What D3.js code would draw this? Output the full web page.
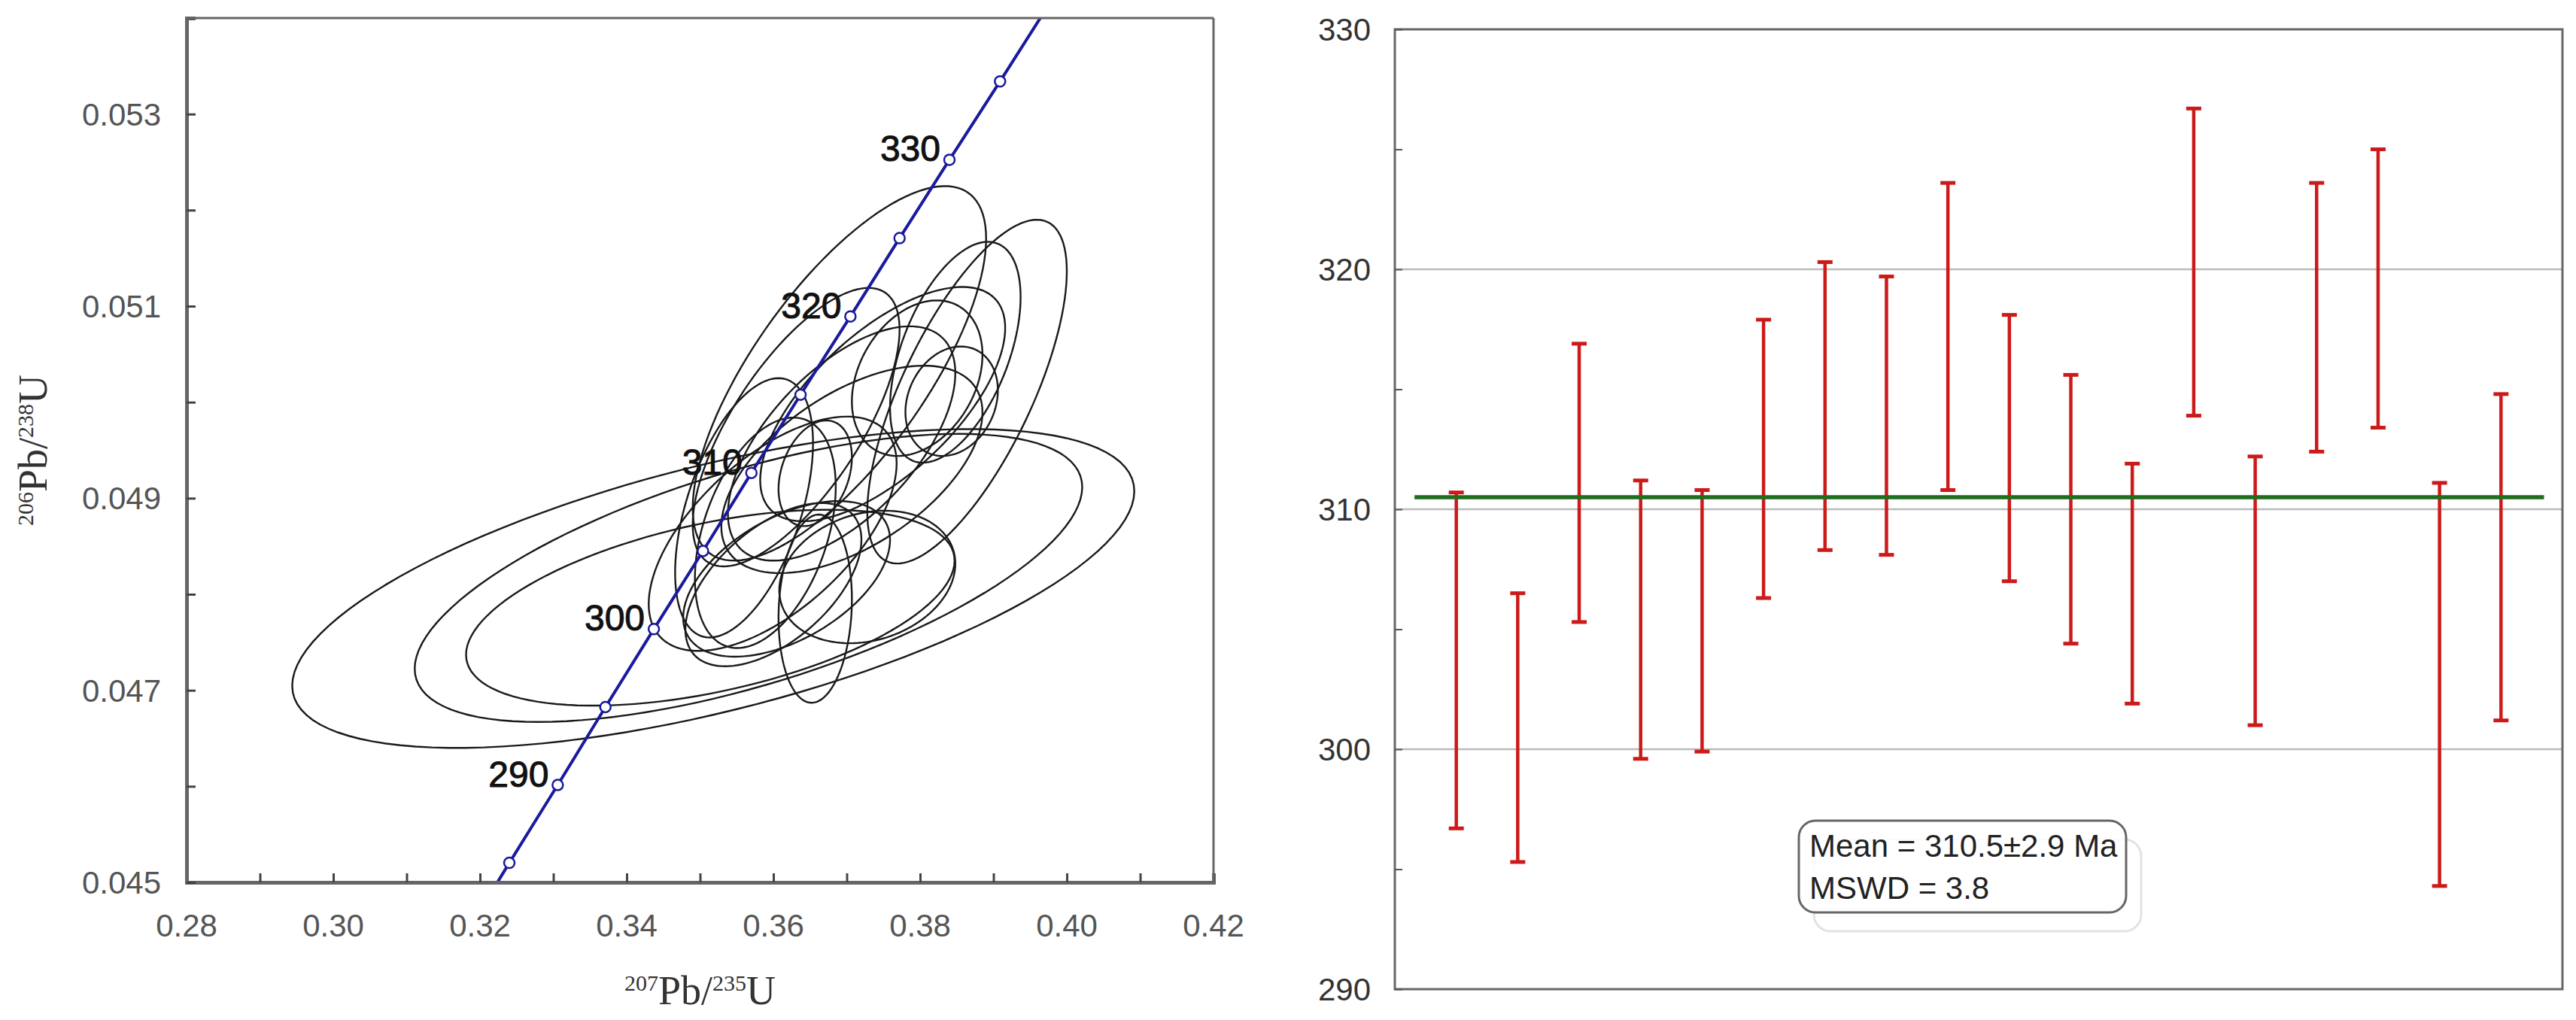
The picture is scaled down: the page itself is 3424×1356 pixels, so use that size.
<!DOCTYPE html>
<html><head><meta charset="utf-8">
<script src="https://cdn.jsdelivr.net/npm/d3@7"></script>
<style>body{margin:0;background:#fff}svg{display:block}</style>
</head><body>
<script>
// ---- Concordia diagram data ----
const concAges = [280,285,290,295,300,305,310,315,320,325,330,335,340];
const concX    = [0.3175,0.3240,0.3306,0.3371,0.3437,0.3504,0.3570,0.3637,0.3705,0.3772,0.3840,0.3909,0.3977];
const concY    = [0.044392,0.045203,0.046014,0.046825,0.047637,0.048450,0.049264,0.050078,0.050893,0.051708,0.052524,0.053341,0.054158];
const markerAges = [285,290,295,300,305,310,315,320,325,330,335];
const labelAges  = [290,300,310,320,330];
// ellipses: centre x, centre y, half-width x, half-height y, correlation
const ellCx  = [0.3518,0.3566,0.3514,0.3690,0.3864,0.3848,0.3657,0.3728,0.3657,0.3599,0.3618,0.3589,0.3796,0.3843,0.3693,0.3707,0.3631,0.3749,0.3560,0.3600];
const ellCy  = [0.04806,0.04817,0.04786,0.05030,0.05011,0.05052,0.04926,0.04818,0.04785,0.04863,0.04816,0.04864,0.05025,0.05001,0.04957,0.04930,0.04974,0.04998,0.04890,0.04810];
const ellHx  = [0.0574,0.0455,0.0333,0.0200,0.0136,0.0089,0.0050,0.0120,0.0050,0.0169,0.0141,0.0096,0.0089,0.0063,0.0155,0.0178,0.0141,0.0167,0.0094,0.0120];
const ellHy  = [0.00166,0.00150,0.00102,0.00195,0.00179,0.00115,0.00055,0.00069,0.00098,0.00122,0.00081,0.00120,0.00081,0.00057,0.00122,0.00108,0.00145,0.00122,0.00135,0.00085];
const ellRho = [0.61,0.63,0.48,0.72,0.70,0.50,0.30,0.20,0.10,0.60,0.50,0.40,0.30,0.20,0.60,0.55,0.70,0.65,0.50,0.55];
const xTicks = [0.28,0.30,0.32,0.34,0.36,0.38,0.40,0.42];
const yTicks = [0.045,0.047,0.049,0.051,0.053];

// ---- Weighted mean data ----
const ageTop    = [310.7,306.5,316.9,311.2,310.8,317.9,320.3,319.7,323.6,318.1,315.6,311.9,326.7,312.2,323.6,325.0,311.1,314.8];
const ageBottom = [296.7,295.3,305.3,299.6,299.9,306.3,308.3,308.1,310.8,307.0,304.4,301.9,313.9,301.0,312.4,313.4,294.3,301.2];
const meanAge = 310.5;
const ageTicks = [290,300,310,320,330];
const legendLines = ["Mean = 310.5±2.9 Ma","MSWD = 3.8"];

const svg = d3.select("body").append("svg").attr("width",3424).attr("height",1356);

// ===== Left: concordia =====
const L = {l:248, r:1613, t:24, b:1173};
const x = d3.scaleLinear().domain([0.28,0.42]).range([L.l,L.r]);
const y = d3.scaleLinear().domain([0.045,0.054]).range([L.b,L.t]);
svg.append("defs").append("clipPath").attr("id","clipL")
  .append("rect").attr("x",L.l).attr("y",L.t).attr("width",L.r-L.l).attr("height",L.b-L.t);
const gL = svg.append("g").attr("clip-path","url(#clipL)");

const ellipses = ellCx.map((c,i)=>({cx:c,cy:ellCy[i],hx:ellHx[i],hy:ellHy[i],r:ellRho[i]}));
gL.selectAll("path.ell").data(ellipses).join("path").attr("class","ell")
  .attr("d",e=>{
    const pts=d3.range(0,361,3).map(a=>{const t=a*Math.PI/180;
      return [x(e.cx+e.hx*Math.cos(t)), y(e.cy+e.hy*(e.r*Math.cos(t)+Math.sqrt(1-e.r*e.r)*Math.sin(t)))];});
    return d3.line().curve(d3.curveLinearClosed)(pts);})
  .attr("fill","none").attr("stroke","#1a1a1a").attr("stroke-width",2.4);

const conc = concAges.map((a,i)=>({a,x:concX[i],y:concY[i]}));
gL.append("path").datum(conc).attr("d",d3.line().curve(d3.curveMonotoneX).x(d=>x(d.x)).y(d=>y(d.y)))
  .attr("fill","none").attr("stroke","#1a1a9c").attr("stroke-width",4);
gL.selectAll("circle.m").data(conc.filter(d=>markerAges.includes(d.a))).join("circle")
  .attr("cx",d=>x(d.x)).attr("cy",d=>y(d.y)).attr("r",7)
  .attr("fill","#fff").attr("stroke","#1a1a9c").attr("stroke-width",2.5);
svg.selectAll("text.cl").data(conc.filter(d=>labelAges.includes(d.a))).join("text")
  .attr("x",d=>x(d.x)-12).attr("y",d=>y(d.y)+2).attr("text-anchor","end")
  .attr("font-family","Liberation Sans, Arial, sans-serif").attr("font-size",48).attr("fill","#111")
  .attr("stroke","#111").attr("stroke-width",1).text(d=>d.a);

// axes
const xAx = d3.axisBottom(x).tickValues(d3.range(0.28,0.4201,0.01)).tickSize(-12).tickFormat("");
svg.append("g").attr("transform",`translate(0,${L.b})`).call(xAx)
  .call(g=>{g.select(".domain").attr("stroke","#666").attr("stroke-width",5);g.selectAll("line").attr("stroke","#444").attr("stroke-width",3);});
svg.append("g").selectAll("text").data(xTicks).join("text")
  .attr("x",d=>x(d)).attr("y",L.b+72).attr("text-anchor","middle")
  .attr("font-family","Liberation Sans, Arial, sans-serif").attr("font-size",42).attr("fill","#555")
  .text(d=>d.toFixed(2));
const yAx = d3.axisLeft(y).tickValues(d3.range(0.045,0.05401,0.001)).tickSize(-12).tickFormat("");
svg.append("g").attr("transform",`translate(${L.l},0)`).call(yAx)
  .call(g=>{g.select(".domain").attr("stroke","#666").attr("stroke-width",5);g.selectAll("line").attr("stroke","#444").attr("stroke-width",3);});
svg.append("g").selectAll("text").data(yTicks).join("text")
  .attr("x",L.l-34).attr("y",d=>y(d)+15).attr("text-anchor","end")
  .attr("font-family","Liberation Sans, Arial, sans-serif").attr("font-size",42).attr("fill","#555")
  .text(d=>d.toFixed(3));
svg.append("line").attr("x1",L.l).attr("x2",L.r).attr("y1",L.t).attr("y2",L.t).attr("stroke","#666").attr("stroke-width",3);
svg.append("line").attr("x1",L.r).attr("x2",L.r).attr("y1",L.t).attr("y2",L.b).attr("stroke","#666").attr("stroke-width",3);

function ratioLabel(sel, a, b, c, d){
  sel.attr("font-family","Liberation Serif, Times New Roman, serif").attr("fill","#333");
  sel.append("tspan").attr("font-size",30).attr("dy",-18).text(a);
  sel.append("tspan").attr("font-size",54).attr("dy",18).text(b);
  sel.append("tspan").attr("font-size",30).attr("dy",-18).text(c);
  sel.append("tspan").attr("font-size",54).attr("dy",18).text(d);
}
ratioLabel(svg.append("text").attr("x",(L.l+L.r)/2).attr("y",1335).attr("text-anchor","middle"),"207","Pb/","235","U");
ratioLabel(svg.append("text").attr("transform",`translate(62,${(L.t+L.b)/2}) rotate(-90)`).attr("text-anchor","middle"),"206","Pb/","238","U");

// ===== Right: weighted mean =====
const R = {l:1854, r:3406, t:39, b:1315};
const xr = d3.scaleLinear().domain([0,19]).range([R.l,R.r]);
const yr = d3.scaleLinear().domain([290,330]).range([R.b,R.t]);
svg.append("g").selectAll("line").data([300,310,320]).join("line")
  .attr("x1",R.l).attr("x2",R.r).attr("y1",d=>yr(d)).attr("y2",d=>yr(d)).attr("stroke","#bbb").attr("stroke-width",2.5);
svg.append("rect").attr("x",R.l).attr("y",R.t).attr("width",R.r-R.l).attr("height",R.b-R.t)
  .attr("fill","none").attr("stroke","#666").attr("stroke-width",3);
svg.append("g").attr("transform",`translate(${R.l},0)`).call(d3.axisLeft(yr).tickValues(d3.range(290,331,5)).tickSize(-10).tickFormat(""))
  .call(g=>{g.select(".domain").remove();g.selectAll("line").attr("stroke","#555").attr("stroke-width",2);});
svg.append("g").selectAll("text").data(ageTicks).join("text")
  .attr("x",R.l-32).attr("y",d=>yr(d)+15).attr("text-anchor","end")
  .attr("font-family","Liberation Sans, Arial, sans-serif").attr("font-size",42).attr("fill","#333").text(d=>d);

const bars = ageTop.map((t,i)=>({i:i+1,t,b:ageBottom[i]}));
const gB = svg.append("g").attr("stroke","#cc1a1a").attr("stroke-width",4.5);
gB.selectAll("line.v").data(bars).join("line").attr("x1",d=>xr(d.i)).attr("x2",d=>xr(d.i)).attr("y1",d=>yr(d.t)).attr("y2",d=>yr(d.b));
gB.selectAll("line.ct").data(bars).join("line").attr("x1",d=>xr(d.i)-10).attr("x2",d=>xr(d.i)+10).attr("y1",d=>yr(d.t)).attr("y2",d=>yr(d.t)).attr("stroke-width",5);
gB.selectAll("line.cb").data(bars).join("line").attr("x1",d=>xr(d.i)-10).attr("x2",d=>xr(d.i)+10).attr("y1",d=>yr(d.b)).attr("y2",d=>yr(d.b)).attr("stroke-width",5);
svg.append("line").attr("x1",xr(0.32)).attr("x2",xr(18.7)).attr("y1",yr(meanAge)).attr("y2",yr(meanAge))
  .attr("stroke","#1e6e1e").attr("stroke-width",5.5);

// legend
const bx=2391, by=1091, bw=435, bh=122;
svg.append("rect").attr("x",bx+20).attr("y",by+25).attr("width",bw).attr("height",bh).attr("rx",22)
  .attr("fill","#fff").attr("stroke","#e2e2e2").attr("stroke-width",3);
svg.append("rect").attr("x",bx).attr("y",by).attr("width",bw).attr("height",bh).attr("rx",22)
  .attr("fill","#fff").attr("fill-opacity",0.85).attr("stroke","#666").attr("stroke-width",3);
svg.append("g").selectAll("text").data(legendLines).join("text")
  .attr("x",bx+14).attr("y",(d,i)=>by+48+i*56)
  .attr("font-family","Liberation Sans, Arial, sans-serif").attr("font-size",42).attr("fill","#222").text(d=>d);
</script>
</body></html>
